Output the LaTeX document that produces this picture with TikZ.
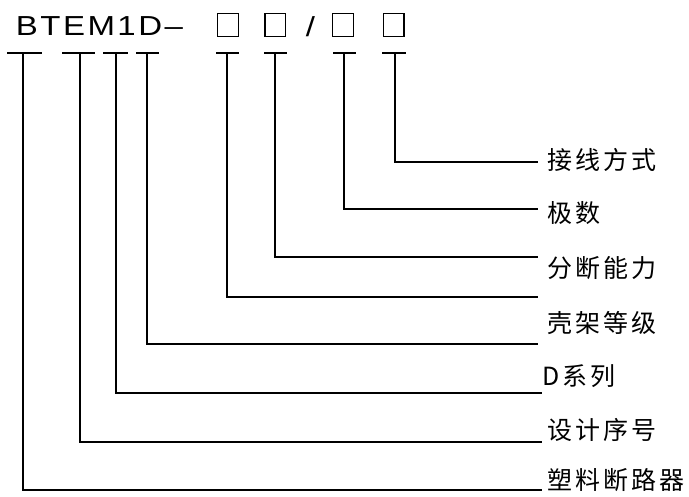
\documentclass[tikz,border=0pt]{standalone}
\usepackage{fontspec}
\setmainfont{Liberation Sans}
\newfontfamily\cjkfont[LetterSpace=12]{Noto Sans CJK SC}
\newfontfamily\codefont[FakeStretch=1.2,LetterSpace=9]{Liberation Sans}

\begin{document}
\begin{tikzpicture}[
  x=1pt, y=-1pt, line width=2pt,
  code/.style={
    font=\codefont\fontsize{27.5}{30}\selectfont,
    inner sep=0pt, anchor=base west
  },
  slot/.style={
    draw, line width=1.3pt, minimum width=20.6pt,
    minimum height=23.4pt, inner sep=0pt
  },
  desc/.style={
    font=\cjkfont\fontsize{25}{28}\selectfont,
    inner sep=0pt, anchor=west
  }
  ]
  \useasboundingbox (0,0) rectangle (689,497);
  \node [code] (code) at (14.9,35.7) {BTEM1D–};
  \foreach \n/\x in {1/228,2/275.3,3/343,4/393.6}
    \node [slot] (box\n) at (\x,25) {};
  \node [code, anchor=center] (slash) at (310.5,26.5) {/};
  \foreach \n/\l/\r/\v/\y/\e in {
    1/7/42/23/490/542, 2/62/95/80/442/542, 3/103/128/116/393/542,
    4/136/159/147/344/538, 5/216/239/227/297/538, 6/264/287/275/257/538,
    7/333/356/344/209/538, 8/382/406/395/162/538} {
    \coordinate (t\n) at (\v,52.7);
    \coordinate (e\n) at (\e,\y);
    \draw (\l,52.7) -- (\r,52.7);
    \draw (t\n) |- (e\n);
  }
  \foreach \n/\x/\y/\t in {
    1/546/160/接线方式, 2/546/213/极数, 3/546/268/分断能力,
    4/546/323/壳架等级, 5/541/376/D系列, 6/546/430/设计序号,
    7/546/480/塑料断路器}
    \node [desc] (desc\n) at (\x,\y) {\t};
\end{tikzpicture}
\end{document}
